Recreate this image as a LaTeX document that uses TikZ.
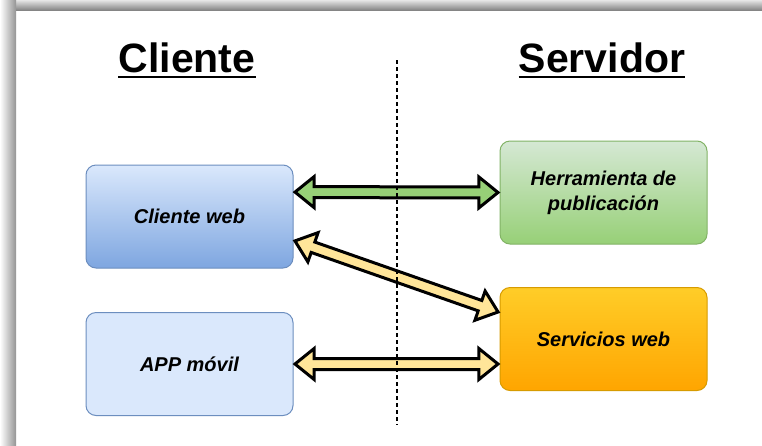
\documentclass[tikz,border=0pt]{standalone}
\usepackage{fontspec}
\setmainfont{Liberation Sans}
\usetikzlibrary{shapes.arrows,calc}
\definecolor{bluetop}{HTML}{DAE8FC}
\definecolor{bluebot}{HTML}{7EA6E0}
\definecolor{blueline}{HTML}{6C8EBF}
\definecolor{greentop}{HTML}{D5E8D4}
\definecolor{greenbot}{HTML}{97D077}
\definecolor{greenline}{HTML}{82B366}
\definecolor{orangetop}{HTML}{FFCD28}
\definecolor{orangebot}{HTML}{FFA500}
\definecolor{orangeline}{HTML}{D79B00}
\definecolor{arrgreen}{HTML}{97D077}
\definecolor{arryellow}{HTML}{FFE599}
\tikzset{
  box/.style={rectangle, rounded corners=10pt, minimum width=207pt, minimum height=103pt,
    line width=1pt, inner sep=0pt, align=center,
    font=\fontsize{20}{25}\selectfont\bfseries\itshape},
  title/.style={inner sep=0pt, anchor=base, font=\fontsize{41}{41}\selectfont\bfseries},
  darrow/.style={double arrow, draw=black, line width=3pt, inner xsep=0pt, inner ysep=4pt,
    double arrow head extend=10pt, double arrow tip angle=78},
  divider/.style={dashed, dash pattern=on 4pt off 3pt, line width=1.3pt}
}
\newcommand\blockarrow[3]{%
  \path let \p1=(#1), \p2=(#2), \n1={atan2(\y2-\y1,\x2-\x1)},
    \n2={veclen(\x2-\x1,\y2-\y1)} in
    node[darrow, fill=#3, rotate=\n1, minimum height={\n2-3}] at ($(\p1)!0.5!(\p2)$) {};}
\begin{document}
\begin{tikzpicture}[x=1pt,y=-1pt]
\useasboundingbox (0,0) rectangle (762,445);
\fill[white] (0,0) rectangle (762,445);
% shadow bands
\shade[top color=black!10, bottom color=black!48] (0,0) rectangle (762,10);
\shade[left color=white, right color=black!42] (0,0) rectangle (16,445);

% titles
\node[title] (cl) at (187,72) {Cliente};
\node[title] (sv) at (602,72) {Servidor};
\draw[line width=2.6pt] ([yshift=-5pt]cl.base west) -- ([yshift=-5pt]cl.base east);
\draw[line width=2.6pt] ([yshift=-5pt]sv.base west) -- ([yshift=-5pt]sv.base east);

% boxes
\node[box, draw=blueline, top color=bluetop, bottom color=bluebot] (cw) at (189.5,216.5) {Cliente web};
\node[box, draw=blueline, fill=bluetop] (app) at (189.5,364) {APP móvil};
\node[box, draw=greenline, top color=greentop, bottom color=greenbot] (her) at (603.5,192.5) {Herramienta de\\publicación};
\node[box, draw=orangeline, top color=orangetop, bottom color=orangebot] (sw) at (603.5,339) {Servicios web};

% arrow end points
\coordinate (g1) at ($(cw.north east)!0.265!(cw.south east)$);
\coordinate (g2) at (her.west);
\coordinate (y1) at ($(cw.north east)!0.73!(cw.south east)$);
\coordinate (y2) at ($(sw.north west)!0.245!(sw.south west)$);
\coordinate (a1) at (app.east);
\coordinate (a2) at (sw.west |- app.east);

\blockarrow{g1}{g2}{arrgreen}
\blockarrow{y1}{y2}{arryellow}
\blockarrow{a1}{a2}{arryellow}

% divider (drawn over the arrows)
\coordinate (dtop) at (397,60);
\coordinate (dbot) at (397,425);
\draw[divider] (dtop) -- (dbot);
\end{tikzpicture}
\end{document}
